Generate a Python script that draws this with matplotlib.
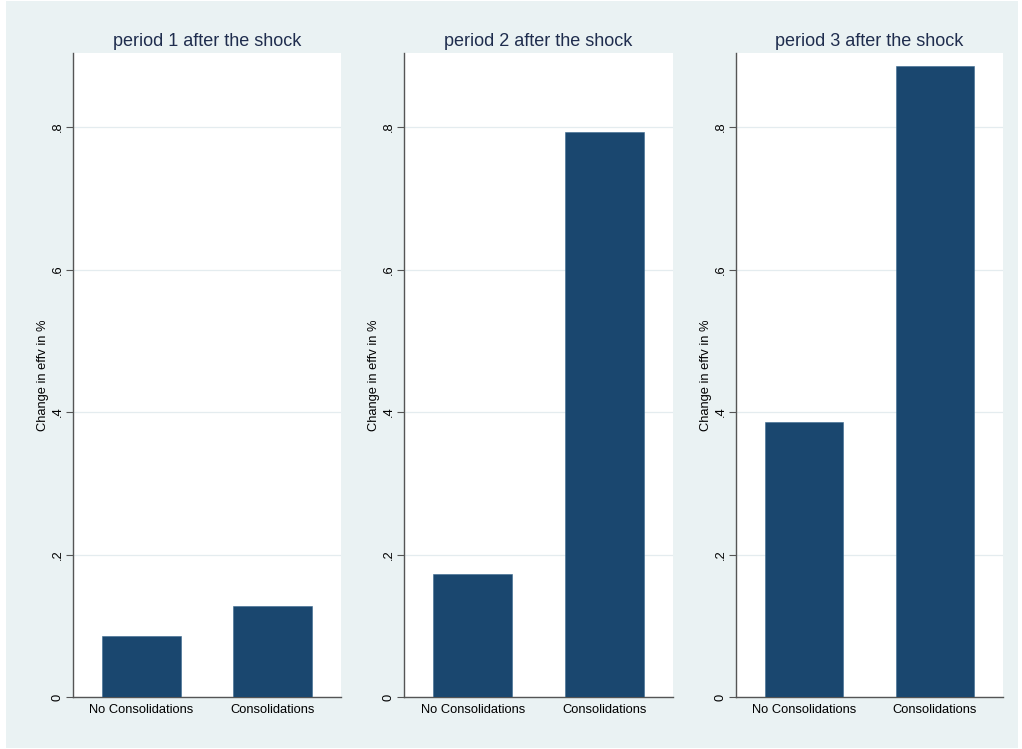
import matplotlib
matplotlib.use("Agg")
import matplotlib.pyplot as plt
from matplotlib.patches import Rectangle

plt.rcParams['font.family'] = ['Liberation Sans', 'DejaVu Sans']

categories = ["No Consolidations", "Consolidations"]
titles = ["period 1 after the shock", "period 2 after the shock", "period 3 after the shock"]
values = [
    [0.0856, 0.128],
    [0.173, 0.793],
    [0.386, 0.886],
]
yticks = [0, 0.2, 0.4, 0.6, 0.8]
yticklabels = ["0", ".2", ".4", ".6", ".8"]
ylabel = "Change in effv in %"

W, H = 1022, 749
fig = plt.figure(figsize=(W / 100, H / 100), dpi=100)
fig.patch.set_facecolor("white")
bg = "#eaf2f3"
fig.patches.append(Rectangle((6 / W, 1 / H), (1018 - 6) / W, (748 - 1) / H,
                             transform=fig.transFigure, facecolor=bg,
                             edgecolor="none", zorder=-10))

panels = [(73, 341), (404, 673), (736, 1003)]
top, bottom = 53, 697
bar_color = "#1a476f"
text_color = "#1f2d4e"
spine_color = "#555555"

for i, (x0, x1) in enumerate(panels):
    ax = fig.add_axes([x0 / W, 1 - bottom / H, (x1 - x0) / W, (bottom - top) / H])
    ax.set_facecolor("white")
    ax.bar(range(len(categories)), values[i], width=0.6, color=bar_color,
           edgecolor="#3a6a90", linewidth=0.4, zorder=3)
    ax.set_xlim(-0.523, 1.523)
    ax.set_ylim(0, 0.904)
    ax.set_yticks(yticks)
    ax.set_yticklabels(yticklabels, rotation=90, va="center", fontsize=9.3)
    ax.set_xticks(range(len(categories)))
    ax.set_xticklabels(categories, fontsize=9.3)
    ax.tick_params(axis="x", length=0, pad=5)
    ax.tick_params(axis="y", length=5, width=0.8, color=spine_color, pad=1.5)
    ax.grid(axis="y", color="#e4ecef", linewidth=0.9, zorder=0)
    ax.set_axisbelow(True)
    for s in ["top", "right"]:
        ax.spines[s].set_visible(False)
    for s in ["left", "bottom"]:
        ax.spines[s].set_color(spine_color)
        ax.spines[s].set_linewidth(1.0)
    ax.set_title(titles[i], fontsize=13, color=text_color, pad=5)
    ax.set_ylabel(ylabel, fontsize=9.3)
    ax.yaxis.set_label_coords(-24 / (x1 - x0), 0.5)

fig.savefig("out.png", dpi=100, facecolor=fig.get_facecolor())
